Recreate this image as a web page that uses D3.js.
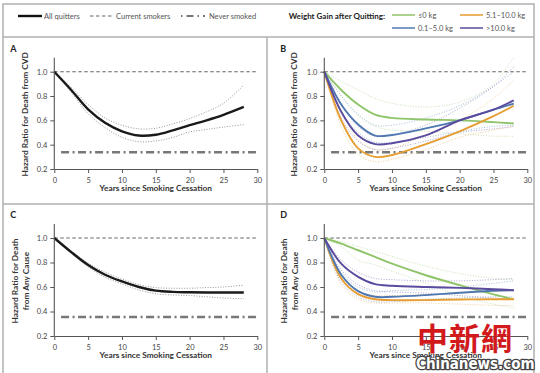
<!DOCTYPE html>
<html>
<head>
<meta charset="utf-8">
<script src="https://cdn.jsdelivr.net/npm/d3@7"></script>
<style>
  html, body { margin: 0; padding: 0; background: #fff; }
  svg { display: block; font-family: Lato, "Open Sans", sans-serif; }
</style>
</head>
<body>
<svg id="chart" width="540" height="373"></svg>
<script>
// years for panels A and C
const yearsAC = [0, 2.5, 5, 7.5, 10, 12.5, 15, 17.5, 20, 22.5, 25, 28];
const cvdAll      = [1.0, 0.85, 0.69, 0.58, 0.51, 0.475, 0.482, 0.518, 0.56, 0.6, 0.645, 0.71];
const cvdAllHi    = [1.0, 0.87, 0.73, 0.62, 0.56, 0.53, 0.535, 0.57, 0.615, 0.67, 0.74, 0.89];
const cvdAllLo    = [1.0, 0.83, 0.655, 0.54, 0.46, 0.425, 0.43, 0.46, 0.505, 0.525, 0.545, 0.565];
const anyAll      = [1.0, 0.885, 0.78, 0.70, 0.645, 0.6, 0.57, 0.56, 0.557, 0.555, 0.555, 0.555];
const anyAllHi    = [1.0, 0.895, 0.795, 0.72, 0.665, 0.62, 0.595, 0.59, 0.59, 0.595, 0.6, 0.615];
const anyAllLo    = [1.0, 0.875, 0.765, 0.68, 0.625, 0.575, 0.545, 0.535, 0.53, 0.52, 0.51, 0.505];

// years for panels B and D
const yearsBD = [0, 2.5, 5, 7.5, 10, 15, 20, 25, 28];
const groups = ["≤0 kg", "0.1–5.0 kg", "5.1–10.0 kg", ">10.0 kg"];
const groupColors = ["#8fc46a", "#4f78b0", "#e69d32", "#5a4b9e"];

const cvdGroups = [
  [1.0, 0.85, 0.73, 0.647, 0.62, 0.607, 0.6, 0.585, 0.574],
  [1.0, 0.73, 0.566, 0.475, 0.48, 0.534, 0.6, 0.688, 0.737],
  [1.0, 0.6, 0.37, 0.3, 0.315, 0.405, 0.51, 0.634, 0.72],
  [1.0, 0.67, 0.475, 0.405, 0.412, 0.477, 0.6, 0.688, 0.764]
];
const cvdGroupsHi = [
  [1.0, 0.92, 0.85, 0.78, 0.74, 0.71, 0.75, 0.9, 1.12],
  [1.0, 0.8, 0.65, 0.56, 0.56, 0.62, 0.72, 0.88, 1.0],
  [1.0, 0.68, 0.44, 0.36, 0.37, 0.48, 0.6, 0.78, 0.93],
  [1.0, 0.74, 0.55, 0.47, 0.48, 0.56, 0.7, 0.88, 1.04]
];
const cvdGroupsLo = [
  [1.0, 0.8, 0.64, 0.55, 0.52, 0.51, 0.49, 0.47, 0.47],
  [1.0, 0.67, 0.5, 0.42, 0.42, 0.46, 0.51, 0.55, 0.56],
  [1.0, 0.55, 0.32, 0.26, 0.28, 0.36, 0.46, 0.52, 0.55],
  [1.0, 0.62, 0.43, 0.36, 0.37, 0.43, 0.5, 0.53, 0.55]
];

const anyGroups = [
  [1.0, 0.954, 0.9, 0.845, 0.79, 0.696, 0.615, 0.54, 0.5],
  [1.0, 0.7, 0.566, 0.52, 0.52, 0.534, 0.553, 0.569, 0.574],
  [1.0, 0.67, 0.542, 0.5, 0.493, 0.493, 0.498, 0.5, 0.5],
  [1.0, 0.79, 0.683, 0.623, 0.61, 0.6, 0.593, 0.582, 0.574]
];
const anyGroupsHi = [
  [1.0, 0.97, 0.93, 0.89, 0.85, 0.77, 0.71, 0.67, 0.66],
  [1.0, 0.72, 0.6, 0.56, 0.57, 0.58, 0.6, 0.63, 0.65],
  [1.0, 0.69, 0.57, 0.53, 0.53, 0.54, 0.55, 0.56, 0.57],
  [1.0, 0.82, 0.72, 0.67, 0.66, 0.65, 0.65, 0.66, 0.67]
];
const anyGroupsLo = [
  [1.0, 0.93, 0.82, 0.78, 0.73, 0.63, 0.53, 0.46, 0.43],
  [1.0, 0.64, 0.52, 0.48, 0.48, 0.5, 0.51, 0.52, 0.52],
  [1.0, 0.62, 0.5, 0.47, 0.47, 0.47, 0.46, 0.45, 0.45],
  [1.0, 0.74, 0.62, 0.57, 0.56, 0.55, 0.53, 0.51, 0.5]
];

const currentSmokers = 1.0;
const neverSmokedCVD = 0.338;
const neverSmokedAny = 0.355;
const xTicks = [0, 5, 10, 15, 20, 25, 30];
const yTicks = [0.2, 0.4, 0.6, 0.8, 1.0];

const svg = d3.select("#chart");
svg.append("rect").attr("width", 540).attr("height", 373).attr("fill", "#fff");

// frame
const frame = svg.append("g").attr("stroke", "#b0b0b0").attr("stroke-width", 1.5).attr("fill", "none");
frame.append("rect").attr("x", 3).attr("y", 4).attr("width", 531).attr("height", 380);
frame.append("line").attr("x1", 3).attr("x2", 534).attr("y1", 37).attr("y2", 37);
frame.append("line").attr("x1", 3).attr("x2", 534).attr("y1", 204).attr("y2", 204);
frame.append("line").attr("x1", 267).attr("x2", 267).attr("y1", 37).attr("y2", 384);

// legend
const lg = svg.append("g").attr("font-size", 7.5).attr("fill", "#555");
lg.append("line").attr("x1", 18).attr("x2", 42).attr("y1", 16).attr("y2", 16).attr("stroke", "#111").attr("stroke-width", 2.4);
lg.append("text").attr("x", 44).attr("y", 18.5).text("All quitters");
lg.append("line").attr("x1", 90).attr("x2", 114).attr("y1", 16).attr("y2", 16).attr("stroke", "#666").attr("stroke-width", 1).attr("stroke-dasharray", "3.5 2.5");
lg.append("text").attr("x", 116).attr("y", 18.5).text("Current smokers");
lg.append("line").attr("x1", 181).attr("x2", 205).attr("y1", 16).attr("y2", 16).attr("stroke", "#777").attr("stroke-width", 2).attr("stroke-dasharray", "1.5 4 7 4");
lg.append("text").attr("x", 209).attr("y", 18.5).text("Never smoked");
lg.append("text").attr("x", 385).attr("y", 18.5).attr("text-anchor", "end").attr("font-weight", "bold").attr("fill", "#222").attr("font-size", 8).text("Weight Gain after Quitting:");
const legPos = [[392, 15], [392, 28], [460, 15], [460, 28]];
groups.forEach((g, i) => {
  const [lx, ly] = legPos[i];
  lg.append("line").attr("x1", lx).attr("x2", lx + 23).attr("y1", ly).attr("y2", ly).attr("stroke", groupColors[i]).attr("stroke-width", 1.5);
  lg.append("text").attr("x", lx + 26).attr("y", ly + 2.5).text(g);
});

function panel(opt) {
  const x = d3.scaleLinear().domain([0, 30]).range([opt.x0, opt.x0 + 203]);
  const y = d3.scaleLinear().domain([0.2, 1.0]).range([opt.yb, opt.yt]);
  const g = svg.append("g");
  const line = d3.line().x(d => x(d[0])).y(d => y(d[1])).curve(d3.curveCatmullRom.alpha(0.5));
  const pts = (xs, vs) => xs.map((t, i) => [t, vs[i]]);

  // reference lines
  g.append("line").attr("x1", x(0)).attr("x2", x(30)).attr("y1", y(currentSmokers)).attr("y2", y(currentSmokers))
    .attr("stroke", "#666").attr("stroke-width", 1.1).attr("stroke-dasharray", "3.5 2.5");
  g.append("line").attr("x1", x(1)).attr("x2", x(30)).attr("y1", y(opt.never)).attr("y2", y(opt.never))
    .attr("stroke", "#777").attr("stroke-width", 2.4).attr("stroke-dasharray", "8 3.5 2 3.5");

  opt.series.forEach(s => {
    [s.hi, s.lo].forEach(ci => {
      g.append("path").attr("d", line(pts(opt.years, ci))).attr("fill", "none")
        .attr("stroke", s.ciColor).attr("stroke-width", 0.9).attr("stroke-dasharray", "1 1.6");
    });
  });
  opt.series.forEach(s => {
    g.append("path").attr("d", line(pts(opt.years, s.v))).attr("fill", "none")
      .attr("stroke", s.color).attr("stroke-width", s.width);
  });

  // axes
  const ya = g.append("g").attr("transform", `translate(${opt.x0},0)`)
    .call(d3.axisLeft(y).tickValues(yTicks).tickFormat(d3.format(".1f")).tickSize(4).tickSizeOuter(0));
  ya.select(".domain").attr("d", `M0,${opt.yb}V${opt.yt - 14}`);
  const xa = g.append("g").attr("transform", `translate(0,${opt.yb})`)
    .call(d3.axisBottom(x).tickValues(xTicks).tickSize(4).tickSizeOuter(0));
  [ya, xa].forEach(a => {
    a.select(".domain").attr("stroke", "#555").attr("stroke-width", 1.1);
    a.selectAll(".tick line").attr("stroke", "#555");
    a.selectAll("text").attr("fill", "#444").attr("font-size", 7.5).attr("font-family", "Lato, sans-serif");
  });
  xa.selectAll("text").attr("dy", "0.9em");

  g.append("text").attr("x", x(15)).attr("y", opt.yb + 22).attr("text-anchor", "middle")
    .attr("font-size", 8.3).attr("font-weight", "bold").attr("fill", "#333").text("Years since Smoking Cessation");
  const yl = g.append("text").attr("transform", `translate(${opt.labelX},${(opt.yt + opt.yb) / 2 - 6}) rotate(-90)`)
    .attr("text-anchor", "middle").attr("font-size", 8.3).attr("font-weight", "bold").attr("fill", "#333");
  opt.ylabel.forEach((t, i) => yl.append("tspan").attr("x", 0).attr("dy", i ? "1.3em" : 0).text(t));
  g.append("text").attr("x", opt.x0 - 44).attr("y", opt.yt - 20).attr("font-size", 9).attr("font-weight", "bold")
    .attr("fill", "#222").text(opt.letter);
}

const mainColor = "#1a1a1a", mainCI = "#8a8a8a";
panel({ letter: "A", x0: 54.3, yt: 71.7, yb: 169, never: neverSmokedCVD, years: yearsAC, labelX: 28,
  ylabel: ["Hazard Ratio for Death from CVD"],
  series: [{ v: cvdAll, hi: cvdAllHi, lo: cvdAllLo, color: mainColor, ciColor: mainCI, width: 2.4 }] });
panel({ letter: "B", x0: 324.3, yt: 71.7, yb: 169, never: neverSmokedCVD, years: yearsBD, labelX: 297,
  ylabel: ["Hazard Ratio for Death from CVD"],
  series: [0, 2, 1, 3].map(i => ({ v: cvdGroups[i], hi: cvdGroupsHi[i], lo: cvdGroupsLo[i], color: groupColors[i], ciColor: d3.interpolateRgb(groupColors[i], "#fff")(0.45), width: 1.9 })) });
panel({ letter: "C", x0: 54.3, yt: 238, yb: 336, never: neverSmokedAny, years: yearsAC, labelX: 18,
  ylabel: ["Hazard Ratio for Death", "from Any Cause"],
  series: [{ v: anyAll, hi: anyAllHi, lo: anyAllLo, color: mainColor, ciColor: mainCI, width: 2.4 }] });
panel({ letter: "D", x0: 324.3, yt: 238, yb: 336, never: neverSmokedAny, years: yearsBD, labelX: 287,
  ylabel: ["Hazard Ratio for Death", "from Any Cause"],
  series: [0, 2, 1, 3].map(i => ({ v: anyGroups[i], hi: anyGroupsHi[i], lo: anyGroupsLo[i], color: groupColors[i], ciColor: d3.interpolateRgb(groupColors[i], "#fff")(0.45), width: 1.9 })) });

// watermark
svg.append("text").attr("x", 417).attr("y", 350).attr("font-size", 31).attr("font-weight", "bold")
  .attr("font-family", "'Noto Sans CJK SC', sans-serif").attr("fill", "#d2191c").attr("letter-spacing", 1).text("中新網");
svg.append("text").attr("x", 416).attr("y", 369).attr("font-size", 15).attr("font-weight", "bold")
  .attr("font-family", "'DejaVu Sans Condensed', 'Liberation Sans Narrow', sans-serif")
  .attr("fill", "#fff").attr("stroke", "#444").attr("stroke-width", 2.6).attr("stroke-linejoin", "round")
  .attr("paint-order", "stroke").text("Chinanews.com");
</script>
</body>
</html>
